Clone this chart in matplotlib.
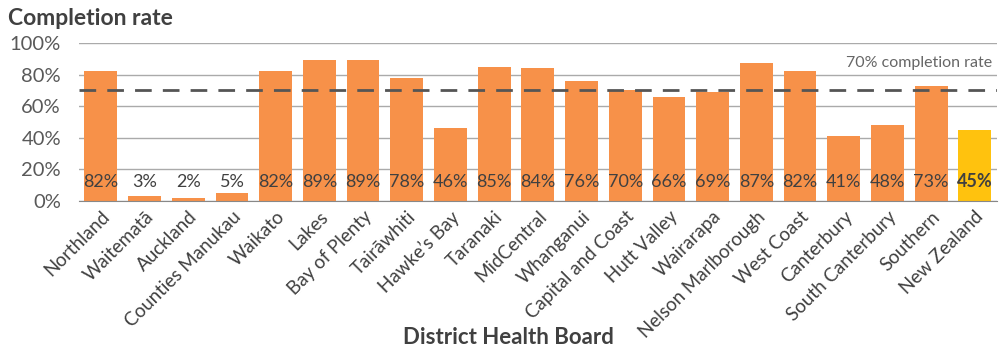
import matplotlib
matplotlib.use("Agg")
from matplotlib import pyplot as plt

plt.rcParams['font.family'] = ['Lato', 'DejaVu Sans']

boards = ["Northland", "Waitematā", "Auckland", "Counties Manukau", "Waikato",
          "Lakes", "Bay of Plenty", "Tairāwhiti", "Hawke’s Bay", "Taranaki",
          "MidCentral", "Whanganui", "Capital and Coast", "Hutt Valley",
          "Wairarapa", "Nelson Marlborough", "West Coast", "Canterbury",
          "South Canterbury", "Southern", "New Zealand"]
rates = [82, 3, 2, 5, 82, 89, 89, 78, 46, 85, 84, 76, 70, 66, 69, 87, 82, 41,
         48, 73, 45]
target = 70

orange = "#F79149"
yellow = "#FFC20E"
dark = "#404040"

fig = plt.figure(figsize=(10.04, 3.55), dpi=100)
ax = fig.add_axes([0.0787, 0.434, 0.914, 0.445])

colors = [yellow if b == "New Zealand" else orange for b in boards]
x = list(range(len(boards)))
ax.bar(x, rates, width=0.75, color=colors, zorder=2)

for i, v in enumerate(rates):
    bold = boards[i] == "New Zealand"
    ax.text(i, 12, f"{v}%", ha="center", va="center", fontsize=13,
            color=dark, fontweight="bold" if bold else "normal", zorder=3)

ax.axhline(target, color="#555555", lw=2, dashes=(6, 4), zorder=3)
ax.text(len(boards) - 0.5 - 0.1, 87.5, "70% completion rate", ha="right",
        va="center", fontsize=11.5, color="#666666")

ax.set_xlim(-0.5, len(boards) - 0.5)
ax.set_ylim(0, 100)
ax.set_yticks(range(0, 101, 20))
ax.set_yticklabels([f"{t}%" for t in range(0, 101, 20)], fontsize=14.5,
                   color="#595959")
ax.set_xticks(x)
ax.set_xticklabels(boards, rotation=45, ha="right", rotation_mode="anchor",
                   fontsize=13.5, color=dark)
ax.tick_params(axis="both", length=0, pad=5)
ax.tick_params(axis="y", pad=13)
ax.yaxis.grid(True, color="#aaaaaa", lw=1, zorder=0)
for s in ["top", "right", "left"]:
    ax.spines[s].set_visible(False)
ax.spines["bottom"].set_color("#888888")
ax.spines["bottom"].set_zorder(4)

fig.text(0.008, 0.948, "Completion rate", fontsize=16.5, fontweight="bold",
         color=dark, va="center", ha="left")
fig.text(0.506, 0.048, "District Health Board", fontsize=16,
         fontweight="bold", color=dark, ha="center", va="center")

fig.savefig("out.png", dpi=100)
